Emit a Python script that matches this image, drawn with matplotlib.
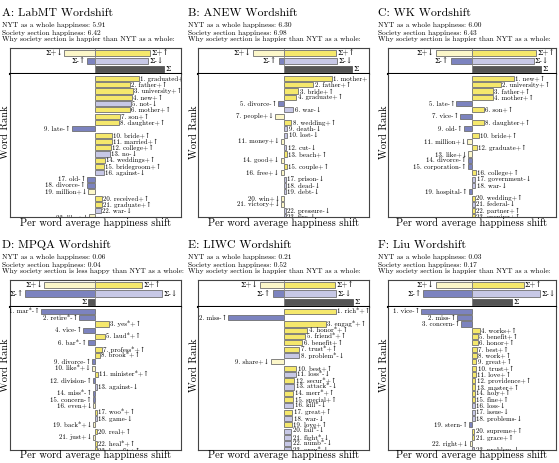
import matplotlib.pyplot as plt

plt.rcParams['font.family'] = ['cmr10', 'DejaVu Serif']

W, H = 559, 463

# colours for the four kinds of word contribution
colours = {'+↑': '#f5e86c', '+↓': '#fcf7c9', '-↑': '#7c83bf', '-↓': '#c7c8e6'}
sum_colour = '#555555'

# ---- data (shift in arbitrary units) ----
# summary rows: sigma+down, sigma+up, sigma-up, sigma-down, total
A_title = 'A: LabMT Wordshift'
A_info = ['NYT as a whole happiness: 5.91', 'Society section happiness: 6.42',
          'Why society section is happier than NYT as a whole:']
A_sums = [-31, 55, -8, 53, 69]
A_words = ['graduated', 'father', 'university', 'new', 'not', 'mother', 'son', 'daughter',
           'late', 'bride', 'married', 'college', 'no', 'weddings', 'bridegroom', 'against',
           'old', 'divorce', 'million', 'received', 'graduate', 'war', 'like']
A_kinds = ['+↑', '+↑', '+↑', '+↑', '-↓', '+↑', '+↑', '+↑', '-↑', '+↑', '+↑', '+↑', '-↓',
           '+↑', '+↑', '-↓', '-↑', '-↑', '+↓', '+↑', '+↑', '-↓', '+↓']
A_vals = [44, 35, 38, 37, 36, 35, 25, 24, -23, 17, 17, 16, 15, 10, 9, 9, -8, -8, -7, 7, 7, 6, -6]

B_title = 'B: ANEW Wordshift'
B_info = ['NYT as a whole happiness: 6.30', 'Society section happiness: 6.98',
          'Why society section is happier than NYT as a whole:']
B_sums = [-31, 53, -5, 54, 69]
B_words = ['mother', 'father', 'bride', 'graduate', 'divorce', 'war', 'people', 'wedding',
           'death', 'lost', 'money', 'cut', 'beach', 'good', 'couple', 'free', 'prison',
           'dead', 'debt', 'win', 'victory', 'pressure', 'fire']
B_kinds = ['+↑', '+↑', '+↑', '+↑', '-↑', '-↓', '+↓', '+↑', '-↓', '-↓', '+↓', '-↓', '+↑',
           '+↓', '+↑', '+↓', '-↓', '-↓', '-↓', '+↓', '+↓', '-↓', '-↓']
B_vals = [49, 30, 15, 13, -5.5, 10, -9, 8, 4, 4, -3, 3, 3.5, -3, 3.5, -3, 2.5, 2.5, 2.5,
          -2.5, -2.5, 2.5, 2.5]

C_title = 'C: WK Wordshift'
C_info = ['NYT as a whole happiness: 6.00', 'Society section happiness: 6.43',
          'Why society section is happier than NYT as a whole:']
C_sums = [-37, 66, -22, 63, 71]
C_words = ['new', 'university', 'father', 'mother', 'late', 'son', 'vice', 'daughter', 'old',
           'bride', 'million', 'graduate', 'like', 'divorce', 'corporation', 'college',
           'government', 'war', 'hospital', 'wedding', 'federal', 'partner', 'evening']
C_kinds = ['+↑', '+↑', '+↑', '+↑', '-↑', '+↑', '-↑', '+↑', '-↑', '+↑', '+↓', '+↑', '+↓',
           '-↑', '-↑', '+↑', '-↓', '-↓', '-↑', '+↑', '-↓', '+↑', '+↑']
C_vals = [43, 30, 21, 21, -16, 12, -12, 12, -8.5, 7, -5, 5, -4, -4, -4, 4, 3.5, 3.5, -3.5,
          3, 3, 3, 3]

D_title = 'D: MPQA Wordshift'
D_info = ['NYT as a whole happiness: 0.06', 'Society section happiness: 0.04',
          'Why society section is less happy than NYT as a whole:']
D_sums = [-51, 47, -70, 67, -7]
D_words = ['mar*', 'retire*', 'yes*', 'vice', 'laud*', 'bar*', 'profess*', 'brook*',
           'divorce', 'like*', 'minister*', 'division', 'against', 'miss*', 'concern',
           'even', 'woo*', 'game', 'back*', 'real', 'just', 'heal*', 'benefit']
D_kinds = ['-↑', '-↑', '+↑', '-↑', '+↑', '-↑', '+↑', '+↑', '-↑', '+↓', '+↑', '-↑', '-↓',
           '-↑', '-↑', '+↓', '+↑', '-↓', '+↓', '+↑', '+↓', '+↑', '+↑']
D_vals = [-54, -16, 14, -12, 10, -7, 7, 5, -3, -3, 2.5, -2.5, 2, -2, -2, -2, 2, 2, -2, 2,
          -2, 2, 2]

E_title = 'E: LIWC Wordshift'
E_info = ['NYT as a whole happiness: 0.21', 'Society section happiness: 0.52',
          'Why society section is happier than NYT as a whole:']
E_sums = [-24, 52, -11, 53, 70]
E_words = ['rich*', 'miss', 'engag*', 'honor*', 'friend*', 'benefit', 'trust*', 'problem*',
           'share', 'best', 'loss*', 'secur*', 'attack*', 'merr*', 'special', 'kill*',
           'great', 'war', 'love', 'fail*', 'fight*', 'numb*', 'argu*']
E_kinds = ['+↑', '-↑', '+↑', '+↑', '+↑', '+↑', '+↑', '-↓', '+↓', '+↑', '-↓', '+↑', '-↓',
           '+↑', '+↑', '-↓', '+↑', '-↓', '+↑', '-↓', '-↓', '-↓', '-↓']
E_vals = [53, -56, 43, 24, 22, 19, 16, 16, -13, 13, 12.5, 11, 11, 10, 10, 10, 9, 9, 8.5,
          8, 8, 8, 8]

F_title = 'F: Liu Wordshift'
F_info = ['NYT as a whole happiness: 0.03', 'Society section happiness: 0.17',
          'Why society section is happier than NYT as a whole:']
F_sums = [-37, 53, -50, 70, 41]
F_words = ['vice', 'miss', 'concern', 'works', 'benefit', 'honor', 'best', 'work', 'great',
           'trust', 'love', 'providence', 'master', 'holy', 'fine', 'loss', 'issue',
           'problems', 'stern', 'supreme', 'grace', 'right', 'problem']
F_kinds = ['-↑', '-↑', '-↑', '+↑', '+↑', '+↑', '+↑', '+↑', '+↑', '+↑', '+↑', '+↑', '+↑',
           '+↑', '+↑', '-↓', '-↓', '-↓', '-↑', '+↑', '+↑', '+↓', '-↓']
F_vals = [-52, -15, -11, 8, 6, 6, 5, 5, 4.5, 4.5, 4, 3.5, 3.5, 3, 3, 3, 3, 3, -3, 2.5,
          2.5, -2.5, 2.5]

# ---- layout in pixels: left, right, top of summary box, separator, bottom ----
panels = [
    (A_title, A_info, A_sums, A_words, A_kinds, A_vals, (9.5, 181, 48, 74, 217)),
    (B_title, B_info, B_sums, B_words, B_kinds, B_vals, (198, 369, 48, 74, 217)),
    (C_title, C_info, C_sums, C_words, C_kinds, C_vals, (388, 556, 48, 74, 217)),
    (D_title, D_info, D_sums, D_words, D_kinds, D_vals, (9.5, 181, 280, 307, 450)),
    (E_title, E_info, E_sums, E_words, E_kinds, E_vals, (198, 369, 280, 307, 450)),
    (F_title, F_info, F_sums, F_words, F_kinds, F_vals, (388, 556, 280, 307, 450)),
]

fig = plt.figure(figsize=(W / 100, H / 100), dpi=100)
half = 86
edge = '#6f6f6f'


def bar_label(ax, x, y, s, size):
    pad = 1.2
    if x >= 0:
        ax.text(x + pad, y, s, ha='left', va='center', fontsize=size, clip_on=True)
    else:
        ax.text(x - pad, y, s, ha='right', va='center', fontsize=size, clip_on=True)


for title, info, sums, words, kinds, vals, box in panels:
    x0, x1, yt, ys, yb = box
    tx = max(x0 - 10, 2)
    ax_t = fig.add_axes([x0 / W, 1 - ys / H, (x1 - x0) / W, (ys - yt) / H])
    ax_m = fig.add_axes([x0 / W, 1 - yb / H, (x1 - x0) / W, (yb - ys) / H])

    # title and info lines
    fig.text(tx / W, 1 - (yt - 35) / H, title, fontsize=8.5, va='center', ha='left')
    for k, line in enumerate(info):
        fig.text(tx / W, 1 - (yt - 22.5 + 7 * k) / H, line, fontsize=5.3, va='center', ha='left')

    # summary box
    rows = [1, 1, 2, 2, 3]
    sum_kinds = ['+↓', '+↑', '-↑', '-↓', None]
    sum_labels = ['Σ+↓', 'Σ+↑', 'Σ-↑', 'Σ-↓', 'Σ']
    for v, r, kd, lab in zip(sums, rows, sum_kinds, sum_labels):
        c = colours[kd] if kd else sum_colour
        ax_t.barh(r, v, height=0.72, color=c, edgecolor=edge if kd else sum_colour, lw=0.6)
        bar_label(ax_t, v, r, lab, 5.5)
    ax_t.axvline(0, color='#888888', lw=0.6)
    ax_t.set_xlim(-half, half)
    ax_t.set_ylim(3.6, 0.4)

    # word bars
    ranks = list(range(1, len(words) + 1))
    ax_m.barh(ranks, vals, height=0.8, color=[colours[k] for k in kinds],
              edgecolor=edge, lw=0.6)
    for r, w, k, v in zip(ranks, words, kinds, vals):
        bar_label(ax_m, v, r, f'{r}. {w}{k}', 4.9)
    ax_m.set_xlim(-half, half)
    ax_m.set_ylim(23.0, 0.3)

    for ax in (ax_t, ax_m):
        ax.set_xticks([])
        ax.set_yticks([])
        for s in ax.spines.values():
            s.set_color('#444444')
            s.set_linewidth(0.8)
    ax_t.spines['bottom'].set_linewidth(1.5)
    ax_t.spines['bottom'].set_color('black')
    ax_m.spines['top'].set_visible(False)

    fig.text((x0 - 4) / W, 1 - (yt + yb) / 2 / H, 'Word Rank', rotation=90,
             fontsize=7.5, va='center', ha='center')
    fig.text((x0 + x1) / 2 / W, 1 - (yb + 5.5) / H, 'Per word average happiness shift',
             fontsize=7.5, va='center', ha='center')

fig.savefig('out.png', dpi=100)
